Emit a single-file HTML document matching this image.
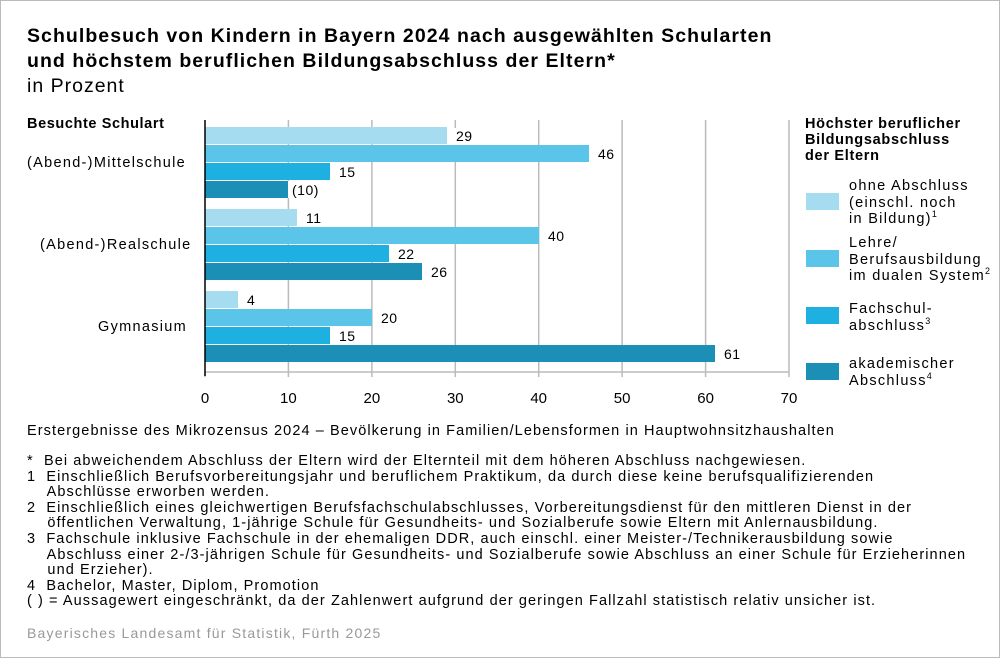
<!DOCTYPE html><html><head><meta charset="utf-8"><style>
body{margin:0;width:1000px;height:658px;background:#fff;font-family:"Liberation Sans",sans-serif;color:#000;overflow:hidden}
.frame{position:absolute;left:0;top:0;width:998px;height:656px;border:1px solid #bbb}
.t{position:absolute;white-space:nowrap;letter-spacing:1px}
sup{font-size:9px;line-height:0;vertical-align:0;position:relative;top:-6px}
</style></head><body><div class="frame"></div>
<div class="t" style="left:27px;top:24px;font-size:19.5px;font-weight:bold;line-height:25px;letter-spacing:1.05px">Schulbesuch von Kindern in Bayern 2024 nach ausgewählten Schularten<br>und höchstem beruflichen Bildungsabschluss der Eltern*</div>
<div class="t" style="left:27px;top:75px;font-size:19.5px">in Prozent</div>
<div class="t" style="left:27px;top:116px;font-size:14.5px;font-weight:bold;letter-spacing:0.6px">Besuchte Schulart</div>
<div class="t" style="left:27px;top:155px;font-size:14.5px;letter-spacing:1.3px">(Abend-)Mittelschule</div>
<div class="t" style="left:40px;top:237px;font-size:14.5px;letter-spacing:1.3px">(Abend-)Realschule</div>
<div class="t" style="left:98px;top:319px;font-size:14.5px;letter-spacing:1.3px">Gymnasium</div>
<svg style="position:absolute;left:0;top:0" width="1000" height="420">
<g stroke="#bbb" stroke-width="1.5">
<line x1="288.4" y1="120" x2="288.4" y2="372"/><line x1="371.9" y1="120" x2="371.9" y2="372"/><line x1="455.3" y1="120" x2="455.3" y2="372"/><line x1="538.7" y1="120" x2="538.7" y2="372"/><line x1="622.1" y1="120" x2="622.1" y2="372"/><line x1="705.6" y1="120" x2="705.6" y2="372"/><line x1="789" y1="120" x2="789" y2="372"/>
<line x1="205" y1="372" x2="789" y2="372"/>
<line x1="205" y1="372" x2="205" y2="377"/><line x1="288.4" y1="372" x2="288.4" y2="377"/><line x1="371.9" y1="372" x2="371.9" y2="377"/><line x1="455.3" y1="372" x2="455.3" y2="377"/><line x1="538.7" y1="372" x2="538.7" y2="377"/><line x1="622.1" y1="372" x2="622.1" y2="377"/><line x1="705.6" y1="372" x2="705.6" y2="377"/><line x1="789" y1="372" x2="789" y2="377"/>
</g>
<g font-size="14" fill="#000" letter-spacing="0.5">
<rect x="447" y="128" width="34" height="18" fill="#fff"/>
<rect x="205" y="127" width="242" height="17" fill="#a6dcef"/><text x="456" y="141">29</text>
<rect x="205" y="145" width="384" height="17" fill="#5bc5e9"/><text x="598" y="159">46</text>
<rect x="330" y="163" width="28" height="17" fill="#fff"/>
<rect x="205" y="163" width="125" height="17" fill="#1fb0e2"/><text x="339" y="177">15</text>
<rect x="288" y="181" width="36" height="17" fill="#fff"/>
<rect x="205" y="181" width="83" height="17" fill="#1b8fb6"/><text x="292" y="195">(10)</text>
<rect x="297" y="209" width="34" height="18" fill="#fff"/>
<rect x="205" y="209" width="92" height="17" fill="#a6dcef"/><text x="306" y="223">11</text>
<rect x="205" y="227" width="334" height="17" fill="#5bc5e9"/><text x="548" y="241">40</text>
<rect x="389" y="245" width="28" height="17" fill="#fff"/>
<rect x="205" y="245" width="184" height="17" fill="#1fb0e2"/><text x="398" y="259">22</text>
<rect x="205" y="263" width="217" height="17" fill="#1b8fb6"/><text x="431" y="277">26</text>
<rect x="238" y="291" width="30" height="18" fill="#fff"/>
<rect x="205" y="291" width="33" height="17" fill="#a6dcef"/><text x="247" y="305">4</text>
<rect x="205" y="309" width="167" height="17" fill="#5bc5e9"/><text x="381" y="323">20</text>
<rect x="330" y="327" width="28" height="17" fill="#fff"/>
<rect x="205" y="327" width="125" height="17" fill="#1fb0e2"/><text x="339" y="341">15</text>
<rect x="205" y="345" width="510" height="17" fill="#1b8fb6"/><text x="724" y="359">61</text>
</g>
<line x1="205" y1="120" x2="205" y2="376" stroke="#000" stroke-width="1.5"/>
<g font-size="15" text-anchor="middle">
<text x="205" y="403">0</text><text x="288.4" y="403">10</text><text x="371.9" y="403">20</text><text x="455.3" y="403">30</text><text x="538.7" y="403">40</text><text x="622.1" y="403">50</text><text x="705.6" y="403">60</text><text x="789" y="403">70</text>
</g>
<g>
<rect x="806" y="193" width="33" height="17" fill="#a6dcef"/>
<rect x="806" y="250" width="33" height="17" fill="#5bc5e9"/>
<rect x="806" y="307" width="33" height="17" fill="#1fb0e2"/>
<rect x="806" y="363" width="33" height="17" fill="#1b8fb6"/>
</g>
</svg>
<div class="t" style="left:805px;top:116px;font-size:14.5px;font-weight:bold;line-height:16px;letter-spacing:0.7px">Höchster beruflicher<br>Bildungsabschluss<br>der Eltern</div>
<div class="t" style="left:849px;top:178px;font-size:14.5px;line-height:16.5px;letter-spacing:1.3px">ohne Abschluss<br>(einschl. noch<br>in Bildung)<sup>1</sup></div>
<div class="t" style="left:849px;top:235px;font-size:14.5px;line-height:16.5px;letter-spacing:1.3px">Lehre/<br>Berufsausbildung<br>im dualen System<sup>2</sup></div>
<div class="t" style="left:849px;top:301px;font-size:14.5px;line-height:16.5px;letter-spacing:1.3px">Fachschul-<br>abschluss<sup>3</sup></div>
<div class="t" style="left:849px;top:356px;font-size:14.5px;line-height:16.5px;letter-spacing:1.3px">akademischer<br>Abschluss<sup>4</sup></div>
<div class="t" style="left:27px;top:423px;font-size:14.5px;letter-spacing:1.08px">Erstergebnisse des Mikrozensus 2024 – Bevölkerung in Familien/Lebensformen in Hauptwohnsitzhaushalten</div>
<div class="t" style="left:27px;top:454px;font-size:14.5px;line-height:15.6px;letter-spacing:1.08px">*&nbsp; Bei abweichendem Abschluss der Eltern wird der Elternteil mit dem höheren Abschluss nachgewiesen.<br>1&nbsp; Einschließlich Berufsvorbereitungsjahr und beruflichem Praktikum, da durch diese keine berufsqualifizierenden<br>&nbsp;&nbsp;&nbsp; Abschlüsse erworben werden.<br>2&nbsp; Einschließlich eines gleichwertigen Berufsfachschulabschlusses, Vorbereitungsdienst für den mittleren Dienst in der<br>&nbsp;&nbsp;&nbsp; öffentlichen Verwaltung, 1-jährige Schule für Gesundheits- und Sozialberufe sowie Eltern mit Anlernausbildung.<br>3&nbsp; Fachschule inklusive Fachschule in der ehemaligen DDR, auch einschl. einer Meister-/Technikerausbildung sowie<br>&nbsp;&nbsp;&nbsp; Abschluss einer 2-/3-jährigen Schule für Gesundheits- und Sozialberufe sowie Abschluss an einer Schule für Erzieherinnen<br>&nbsp;&nbsp;&nbsp; und Erzieher).<br>4&nbsp; Bachelor, Master, Diplom, Promotion<br>( ) = Aussagewert eingeschränkt, da der Zahlenwert aufgrund der geringen Fallzahl statistisch relativ unsicher ist.</div>
<div class="t" style="left:27px;top:625px;font-size:14px;color:#999;letter-spacing:1.2px">Bayerisches Landesamt für Statistik, Fürth 2025</div>
</body></html>
